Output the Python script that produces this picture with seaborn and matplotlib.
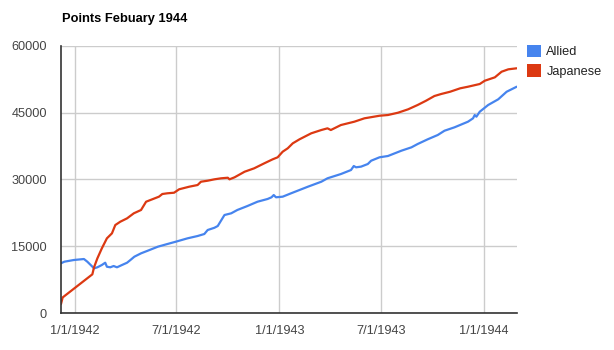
import matplotlib
matplotlib.use("Agg")
import matplotlib.pyplot as plt
from matplotlib.patches import Patch
import pandas as pd
import seaborn as sns

# Cumulative points per side, Dec 1941 - Feb 1944
allied_dates = [
    "1941-12-07", "1941-12-13", "1941-12-30", "1942-01-17", "1942-01-23",
    "1942-01-29", "1942-02-04", "1942-02-10", "1942-02-18", "1942-02-24",
    "1942-02-27", "1942-03-05", "1942-03-11", "1942-03-17", "1942-03-26",
    "1942-04-04", "1942-04-10", "1942-04-17", "1942-04-29", "1942-05-11",
    "1942-05-29", "1942-06-15", "1942-06-30", "1942-07-21", "1942-08-08",
    "1942-08-20", "1942-08-26", "1942-09-07", "1942-09-13", "1942-09-25",
    "1942-10-07", "1942-10-18", "1942-11-05", "1942-11-23", "1942-12-11",
    "1942-12-18", "1942-12-22", "1942-12-26", "1943-01-07", "1943-01-22",
    "1943-02-06", "1943-02-21", "1943-03-17", "1943-03-28", "1943-04-21",
    "1943-05-09", "1943-05-14", "1943-05-18", "1943-05-27", "1943-06-08",
    "1943-06-14", "1943-06-29", "1943-07-14", "1943-08-07", "1943-08-25",
    "1943-09-05", "1943-09-23", "1943-10-11", "1943-10-23", "1943-11-10",
    "1943-12-04", "1943-12-13", "1943-12-16", "1943-12-19", "1943-12-25",
    "1944-01-09", "1944-01-27", "1944-02-11", "1944-02-29",
]
allied_points = [
    11170, 11530, 11910, 12130, 11530,
    10790, 10040, 10270, 10790, 11300,
    10400, 10270, 10560, 10270, 10790,
    11300, 11910, 12650, 13410, 14000,
    14900, 15500, 16020, 16780, 17300,
    17750, 18650, 19150, 19550, 22020,
    22400, 23150, 24040, 25010, 25620,
    26000, 26510, 26000, 26140, 26900,
    27640, 28380, 29500, 30270, 31230,
    32130, 33030, 32740, 32890, 33480,
    34220, 34990, 35280, 36470, 37230,
    37970, 39030, 40000, 40960, 41730,
    42990, 43750, 44490, 44110, 45230,
    46740, 48020, 49720, 50850,
]

japanese_dates = [
    "1941-12-07", "1941-12-10", "1942-02-01", "1942-02-04", "1942-02-10",
    "1942-02-18", "1942-02-27", "1942-03-08", "1942-03-14", "1942-03-23",
    "1942-04-04", "1942-04-16", "1942-04-29", "1942-05-08", "1942-05-19",
    "1942-05-31", "1942-06-06", "1942-06-15", "1942-06-27", "1942-07-06",
    "1942-07-24", "1942-08-08", "1942-08-14", "1942-08-26", "1942-09-07",
    "1942-09-19", "1942-10-01", "1942-10-04", "1942-10-13", "1942-10-31",
    "1942-11-17", "1942-12-05", "1942-12-20", "1942-12-29", "1943-01-07",
    "1943-01-16", "1943-01-25", "1943-02-06", "1943-02-27", "1943-03-17",
    "1943-03-28", "1943-04-03", "1943-04-21", "1943-05-15", "1943-06-02",
    "1943-06-29", "1943-07-14", "1943-08-01", "1943-08-19", "1943-09-05",
    "1943-09-20", "1943-10-05", "1943-10-17", "1943-11-02", "1943-11-20",
    "1943-12-04", "1943-12-25", "1944-01-03", "1944-01-21", "1944-02-02",
    "1944-02-14", "1944-02-29",
]
japanese_points = [
    2020, 3500, 8690, 10270, 12290,
    14540, 16780, 17900, 19770, 20520,
    21270, 22400, 23150, 25010, 25550,
    26140, 26740, 26900, 27030, 27800,
    28380, 28760, 29500, 29730, 30040,
    30270, 30400, 30040, 30490, 31750,
    32510, 33630, 34530, 34990, 36250,
    37010, 38130, 39030, 40380, 41120,
    41500, 41120, 42240, 42990, 43750,
    44330, 44490, 45010, 45770, 46740,
    47700, 48760, 49210, 49720, 50490,
    50850, 51460, 52200, 52960, 54220,
    54760, 54990,
]

series_names = ["Allied", "Japanese"]
series_colors = ["#4684ee", "#dc3912"]

tick_dates = ["1942-01-01", "1942-07-01", "1943-01-01", "1943-07-01", "1944-01-01"]
tick_labels = ["1/1/1942", "7/1/1942", "1/1/1943", "7/1/1943", "1/1/1944"]
y_ticks = [0, 15000, 30000, 45000, 60000]

df = pd.concat([
    pd.DataFrame({"date": pd.to_datetime(allied_dates), "points": allied_points,
                  "side": series_names[0]}),
    pd.DataFrame({"date": pd.to_datetime(japanese_dates), "points": japanese_points,
                  "side": series_names[1]}),
], ignore_index=True)

sns.set_theme(style="white")
plt.rcParams["font.family"] = ["Liberation Sans", "DejaVu Sans"]

fig = plt.figure(figsize=(6.14, 3.5), dpi=100)
ax = fig.add_axes([61 / 614, 1 - 313 / 350, (516.7 - 61) / 614, (313 - 46) / 350])

sns.lineplot(data=df, x="date", y="points", hue="side", hue_order=series_names,
             palette=series_colors, linewidth=1.6, legend=False, ax=ax,
             estimator=None, sort=False)

ax.set_xlim(df["date"].min(), df["date"].max())
ax.set_ylim(0, 60000)
ax.set_xticks(pd.to_datetime(tick_dates))
ax.set_xticklabels(tick_labels)
ax.set_yticks(y_ticks)
ax.set_yticklabels([str(v) for v in y_ticks])
ax.set_xlabel("")
ax.set_ylabel("")

ax.grid(True, color="#cccccc", linewidth=1)
ax.set_axisbelow(True)
for side in ["top", "right"]:
    ax.spines[side].set_visible(False)
for side in ["left", "bottom"]:
    ax.spines[side].set_color("#333333")
    ax.spines[side].set_linewidth(1.2)
    ax.spines[side].set_zorder(5)

ax.tick_params(axis="both", length=0, labelsize=9.2, colors="#444444")
ax.tick_params(axis="y", pad=10)
ax.tick_params(axis="x", pad=9)

fig.text(62 / 614, 1 - 19 / 350, "Points Febuary 1944", fontsize=9.3,
         fontweight="bold", color="#000000", ha="left", va="center")

handles = [Patch(facecolor=c, edgecolor="none", label=n)
           for n, c in zip(series_names, series_colors)]
fig.legend(handles=handles, loc="upper left", bbox_to_anchor=(524 / 614, 1 - 42 / 350),
           frameon=False, fontsize=9.2, handlelength=1.1, handleheight=1.1,
           handletextpad=0.45, labelspacing=0.5, labelcolor="#222222",
           borderaxespad=0, borderpad=0.2)

fig.savefig("out.png", dpi=100)
